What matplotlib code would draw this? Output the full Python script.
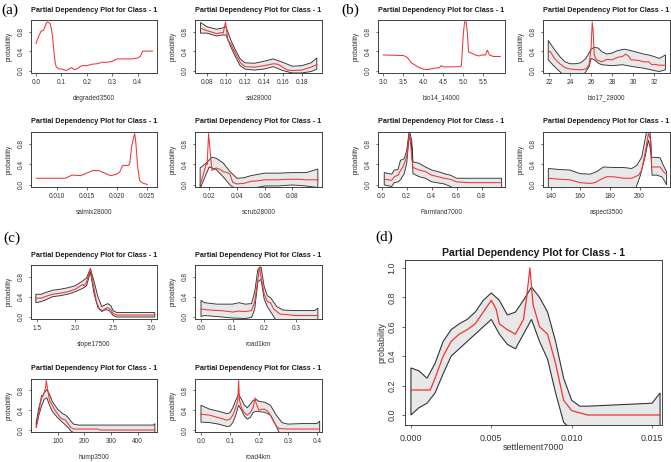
import matplotlib
matplotlib.use("Agg")
import matplotlib.pyplot as plt

W, H = 671, 462
plt.rcParams['font.family'] = ['Liberation Sans', 'DejaVu Sans']

TITLE = "Partial Dependency Plot for Class - 1"
RED = '#f03434'
EDGE = '#333333'
FILL = '#e8e8e8'

# ---- (a) ----
degraded_x = [0.0, 0.01, 0.02, 0.03, 0.04, 0.045, 0.055, 0.06, 0.065, 0.07, 0.075, 0.08, 0.09, 0.10, 0.11,
              0.12, 0.13, 0.14, 0.15, 0.16, 0.17, 0.18, 0.20, 0.22, 0.24, 0.26, 0.28, 0.30, 0.32, 0.35,
              0.38, 0.40, 0.41, 0.42, 0.43, 0.458]
degraded_y = [0.56, 0.70, 0.81, 0.83, 0.97, 1.0, 0.97, 0.87, 0.70, 0.42, 0.17, 0.07, 0.035, 0.03, 0.015,
              0.0, 0.035, 0.06, 0.02, 0.03, 0.07, 0.10, 0.10, 0.13, 0.14, 0.17, 0.17, 0.19, 0.24, 0.24,
              0.24, 0.26, 0.29, 0.40, 0.40, 0.40]

sal_x = [0.073, 0.08, 0.09, 0.095, 0.097, 0.0995, 0.102, 0.105, 0.11, 0.115, 0.12, 0.13, 0.14, 0.15,
         0.155, 0.16, 0.165, 0.17, 0.18, 0.19, 0.196]
sal_y = [0.87, 0.82, 0.76, 0.78, 0.77, 1.0, 0.62, 0.55, 0.35, 0.17, 0.08, 0.07, 0.10, 0.14, 0.13, 0.07,
         0.01, 0.0, 0.01, 0.07, 0.12]
sal_bx = [0.073, 0.08, 0.09, 0.095, 0.10, 0.105, 0.11, 0.115, 0.12, 0.13, 0.14, 0.15, 0.16, 0.17, 0.18,
          0.19, 0.196]
sal_hi = [0.99, 0.90, 0.85, 0.87, 0.90, 0.63, 0.42, 0.24, 0.16, 0.15, 0.19, 0.24, 0.17, 0.09, 0.10, 0.16, 0.26]
sal_lo = [0.77, 0.77, 0.71, 0.73, 0.73, 0.49, 0.28, 0.10, 0.03, 0.01, 0.03, 0.08, 0.0, -0.05, -0.05, -0.02, 0.03]

salmix_x = [0.0066, 0.010, 0.0115, 0.0125, 0.013, 0.014, 0.015, 0.016, 0.017, 0.018, 0.019, 0.020, 0.0205,
            0.021, 0.0215, 0.022, 0.0222, 0.0225, 0.0228, 0.023, 0.0232, 0.0235, 0.0238, 0.024, 0.0245, 0.0251]
salmix_y = [0.13, 0.13, 0.13, 0.19, 0.19, 0.18, 0.23, 0.28, 0.28, 0.23, 0.18, 0.21, 0.25, 0.38, 0.38, 0.38,
            0.43, 0.75, 0.91, 1.0, 0.81, 0.35, 0.10, 0.06, 0.03, 0.01]

scrub_x = [0.0134, 0.016, 0.018, 0.0185, 0.0195, 0.021, 0.022, 0.025, 0.028, 0.030, 0.033, 0.035, 0.036,
           0.037, 0.040, 0.045, 0.05, 0.055, 0.06, 0.065, 0.07, 0.075, 0.08, 0.085, 0.09, 0.0985]
scrub_y = [0.0, 0.23, 0.43, 0.40, 1.0, 0.55, 0.28, 0.33, 0.30, 0.26, 0.24, 0.21, 0.13, 0.05, 0.02, 0.03,
           0.07, 0.08, 0.10, 0.10, 0.10, 0.11, 0.11, 0.11, 0.10, 0.10]
scrub_hx = [0.0134, 0.018, 0.022, 0.025, 0.030, 0.035, 0.040, 0.045, 0.05, 0.06, 0.07, 0.08, 0.09, 0.0985]
scrub_hi = [0.33, 0.43, 0.54, 0.52, 0.43, 0.26, 0.13, 0.14, 0.18, 0.23, 0.23, 0.24, 0.24, 0.31]
scrub_lx = [0.0134, 0.016, 0.02, 0.022, 0.025, 0.03, 0.035, 0.04, 0.05, 0.06, 0.07, 0.08, 0.09, 0.0985]
scrub_lo = [-0.07, 0.10, 0.35, 0.33, 0.30, 0.16, 0.0, -0.1, -0.07, -0.02, -0.02, 0.0, -0.02, -0.05]

# ---- (b) ----
bio14_x = [3.0, 3.5, 3.6, 3.7, 3.8, 3.9, 4.0, 4.1, 4.2, 4.3, 4.4, 4.45, 4.5, 4.7, 4.9, 4.95, 5.0, 5.03,
           5.07, 5.1, 5.13, 5.2, 5.3, 5.4, 5.45, 5.55, 5.6, 5.65, 5.75, 5.92]
bio14_y = [0.32, 0.31, 0.27, 0.16, 0.11, 0.06, 0.03, 0.02, 0.035, 0.05, 0.06, 0.10, 0.075, 0.075, 0.08,
           0.10, 0.77, 1.0, 1.0, 0.77, 0.38, 0.36, 0.32, 0.30, 0.32, 0.32, 0.42, 0.32, 0.29, 0.29]

bio17_x = [21.9, 22.1, 22.5, 23, 23.5, 24, 25, 25.5, 25.8, 26.0, 26.1, 26.2, 26.3, 26.5, 27, 27.5, 28,
           28.5, 29, 29.3, 29.6, 29.8, 30, 30.5, 31, 31.5, 31.8, 32, 32.5, 33.1]
bio17_y = [0.39, 0.39, 0.25, 0.14, 0.06, 0.03, 0.015, 0.035, 0.12, 0.48, 1.0, 0.77, 0.32, 0.22, 0.18, 0.23,
           0.22, 0.27, 0.29, 0.34, 0.29, 0.22, 0.22, 0.21, 0.18, 0.18, 0.12, 0.13, 0.11, 0.11]
bio17_hx = [21.9, 22.5, 23, 23.5, 24, 24.5, 25, 25.5, 26, 26.3, 26.7, 27, 27.5, 28, 28.5, 29.2, 29.8, 30.5,
            31, 31.5, 32, 32.5, 33.1]
bio17_hi = [0.62, 0.43, 0.29, 0.18, 0.14, 0.14, 0.16, 0.25, 0.44, 0.48, 0.46, 0.39, 0.34, 0.36, 0.41, 0.44,
            0.41, 0.37, 0.34, 0.32, 0.29, 0.25, 0.32]
bio17_lx = [21.9, 22.5, 23, 23.5, 24, 25, 25.5, 25.8, 26, 26.3, 26.7, 27, 28, 29, 30, 31, 32, 32.5, 33.1]
bio17_lo = [0.22, 0.08, -0.02, -0.12, -0.19, -0.16, -0.02, 0.08, 0.25, 0.22, 0.15, 0.12, 0.10, 0.12, 0.08,
            0.05, 0.0, -0.02, 0.015]

farm_x = [0.02, 0.05, 0.08, 0.10, 0.13, 0.15, 0.17, 0.19, 0.20, 0.21, 0.22, 0.23, 0.24, 0.25, 0.30, 0.35,
          0.40, 0.45, 0.50, 0.55, 0.60, 0.70, 0.80, 0.96]
farm_y = [0.11, 0.10, 0.09, 0.16, 0.19, 0.28, 0.35, 0.48, 0.54, 0.80, 1.0, 0.83, 0.54, 0.34, 0.29, 0.26,
          0.19, 0.16, 0.13, 0.11, 0.06, 0.045, 0.045, 0.045]
farm_hx = [0.02, 0.08, 0.10, 0.13, 0.15, 0.18, 0.20, 0.22, 0.24, 0.25, 0.30, 0.35, 0.40, 0.45, 0.50, 0.55,
           0.60, 0.70, 0.96]
farm_hi = [0.24, 0.21, 0.29, 0.30, 0.48, 0.51, 0.67, 1.06, 0.87, 0.45, 0.42, 0.35, 0.29, 0.26, 0.22, 0.19,
           0.13, 0.13, 0.13]
farm_lx = [0.02, 0.08, 0.10, 0.13, 0.15, 0.18, 0.20, 0.22, 0.24, 0.25, 0.30, 0.35, 0.40, 0.50, 0.55, 0.60, 0.96]
farm_lo = [0.0, -0.03, 0.045, 0.06, 0.10, 0.22, 0.42, 0.96, 0.74, 0.22, 0.16, 0.13, 0.06, 0.02, -0.03, -0.1, -0.06]

aspect_x = [138.4, 146.3, 153.1, 159.8, 166.6, 169.9, 173.3, 177.8, 182.3, 189.1, 194.7, 199.3, 201.5,
            203.7, 206.0, 207.6, 208.2, 211.6, 213.9, 216.1, 218.3]
aspect_y = [0.13, 0.11, 0.10, 0.045, 0.03, 0.045, 0.10, 0.16, 0.16, 0.13, 0.13, 0.19, 0.29, 0.61, 1.0,
            0.87, 0.35, 0.35, 0.35, 0.26, 0.21]
aspect_hx = [138.4, 146.3, 153.1, 159.8, 166.6, 171.1, 175.6, 182.3, 189.1, 194.7, 198.1, 201.5, 204.9,
             207.1, 208.2, 213.9, 216.1, 218.3]
aspect_hi = [0.32, 0.30, 0.29, 0.22, 0.21, 0.26, 0.35, 0.34, 0.34, 0.32, 0.38, 0.54, 1.06, 1.04, 0.54,
             0.53, 0.38, 0.26]
aspect_lx = [138.4, 146.3, 159.8, 173.3, 191.4, 197.0, 200.3, 203.7, 206.0, 207.6, 208.5, 211.6, 215.0,
             217.3, 218.3]
aspect_lo = [-0.06, -0.1, -0.16, -0.16, -0.16, -0.1, 0.16, 0.54, 0.87, 0.67, 0.19, 0.19, 0.16, 0.06, 0.0]

# ---- (c) ----
slope_x = [1.48, 1.55, 1.6, 1.7, 1.8, 1.9, 2.0, 2.05, 2.1, 2.12, 2.15, 2.18, 2.2, 2.22, 2.25, 2.28, 2.32,
           2.36, 2.4, 2.43, 2.47, 2.5, 2.55, 2.6, 3.05]
slope_y = [0.37, 0.37, 0.40, 0.45, 0.47, 0.50, 0.55, 0.60, 0.65, 0.62, 0.70, 0.85, 0.97, 0.80, 0.55, 0.30,
           0.15, 0.12, 0.16, 0.18, 0.14, 0.06, 0.03, 0.03, 0.03]
slope_hx = [1.48, 1.55, 1.6, 1.7, 1.8, 1.9, 2.0, 2.1, 2.15, 2.2, 2.25, 2.3, 2.35, 2.4, 2.43, 2.47, 2.5,
            2.55, 3.05]
slope_hi = [0.45, 0.45, 0.48, 0.53, 0.55, 0.58, 0.62, 0.72, 0.78, 0.97, 0.70, 0.40, 0.20, 0.24, 0.26, 0.22,
            0.12, 0.08, 0.08]
slope_lx = [1.48, 1.55, 1.6, 1.7, 1.8, 1.9, 2.0, 2.1, 2.15, 2.2, 2.25, 2.3, 2.35, 2.4, 2.45, 2.5, 2.55, 3.05]
slope_lo = [0.28, 0.30, 0.33, 0.40, 0.42, 0.45, 0.50, 0.57, 0.62, 0.90, 0.45, 0.18, 0.10, 0.14, 0.12, 0.02,
            -0.01, -0.01]

road1_x = [0.0, 0.03, 0.06, 0.09, 0.10, 0.12, 0.14, 0.16, 0.17, 0.18, 0.185, 0.19, 0.20, 0.21, 0.22, 0.23,
           0.25, 0.30, 0.37]
road1_y = [0.15, 0.13, 0.12, 0.10, 0.09, 0.11, 0.10, 0.12, 0.30, 0.75, 1.0, 0.80, 0.45, 0.30, 0.28, 0.15,
           0.05, 0.02, 0.02]
road1_hx = [0.0, 0.01, 0.05, 0.10, 0.12, 0.14, 0.16, 0.17, 0.18, 0.19, 0.20, 0.21, 0.22, 0.24, 0.26, 0.30,
            0.36, 0.37]
road1_hi = [0.33, 0.28, 0.25, 0.25, 0.28, 0.25, 0.26, 0.50, 0.95, 1.0, 0.60, 0.42, 0.38, 0.20, 0.13, 0.12,
            0.12, 0.17]
road1_lx = [0.0, 0.01, 0.05, 0.10, 0.14, 0.16, 0.17, 0.18, 0.19, 0.20, 0.21, 0.22, 0.23, 0.24, 0.26, 0.37]
road1_lo = [0.0, 0.02, 0.0, -0.03, -0.04, -0.02, 0.15, 0.70, 0.75, 0.35, 0.20, 0.10, 0.0, -0.1, -0.15, -0.15]

hump_x = [20, 30, 40, 45, 50, 55, 58, 62, 70, 80, 90, 100, 110, 120, 130, 140, 150, 160, 200, 250, 260, 465]
hump_y = [0.05, 0.35, 0.70, 0.68, 0.75, 0.85, 1.0, 0.85, 0.60, 0.50, 0.40, 0.33, 0.25, 0.22, 0.20, 0.12,
          0.05, 0.02, 0.02, 0.02, 0.0, 0.0]
hump_hx = [20, 30, 40, 50, 60, 70, 80, 100, 120, 130, 140, 150, 160, 180, 200, 460, 465]
hump_hi = [0.15, 0.45, 0.65, 0.75, 0.82, 0.72, 0.58, 0.42, 0.33, 0.30, 0.25, 0.18, 0.12, 0.10, 0.10, 0.10, 0.13]
hump_lx = [20, 30, 40, 50, 60, 70, 80, 100, 120, 140, 150, 160, 465]
hump_lo = [0.05, 0.30, 0.48, 0.62, 0.65, 0.50, 0.38, 0.25, 0.15, 0.05, -0.02, -0.05, -0.05]

road4_x = [0.0, 0.03, 0.06, 0.09, 0.10, 0.11, 0.12, 0.127, 0.13, 0.133, 0.14, 0.15, 0.16, 0.17, 0.18,
           0.187, 0.19, 0.20, 0.21, 0.22, 0.23, 0.24, 0.25, 0.26, 0.27, 0.30, 0.35, 0.41]
road4_y = [0.32, 0.30, 0.25, 0.20, 0.22, 0.30, 0.45, 0.60, 1.0, 0.60, 0.45, 0.35, 0.30, 0.35, 0.45, 0.65,
           0.55, 0.40, 0.42, 0.42, 0.38, 0.30, 0.18, 0.08, 0.03, 0.02, 0.02, 0.02]
road4_hx = [0.0, 0.03, 0.06, 0.09, 0.10, 0.11, 0.12, 0.13, 0.14, 0.15, 0.16, 0.17, 0.18, 0.19, 0.20, 0.22,
            0.24, 0.26, 0.28, 0.30, 0.35, 0.40, 0.41]
road4_hi = [0.50, 0.42, 0.38, 0.33, 0.35, 0.45, 0.60, 0.72, 0.62, 0.50, 0.45, 0.52, 0.60, 0.62, 0.58, 0.56,
            0.50, 0.30, 0.15, 0.12, 0.13, 0.13, 0.18]
road4_lx = [0.0, 0.03, 0.06, 0.09, 0.10, 0.11, 0.12, 0.13, 0.14, 0.15, 0.16, 0.17, 0.18, 0.19, 0.20, 0.22,
            0.24, 0.26, 0.27, 0.30, 0.41]
road4_lo = [0.16, 0.15, 0.12, 0.07, 0.08, 0.15, 0.30, 0.50, 0.40, 0.28, 0.22, 0.25, 0.35, 0.38, 0.37, 0.36,
            0.30, 0.08, -0.05, -0.15, -0.15]

# ---- (d) ----
settle_x = [0.0, 0.0012, 0.0015, 0.002, 0.0025, 0.003, 0.0035, 0.004, 0.0045, 0.005, 0.0053, 0.0055, 0.006,
            0.0065, 0.007, 0.0072, 0.0074, 0.0076, 0.008, 0.0085, 0.009, 0.0095, 0.010, 0.011, 0.0155]
settle_y = [0.17, 0.17, 0.25, 0.40, 0.50, 0.55, 0.58, 0.62, 0.70, 0.78, 0.72, 0.62, 0.58, 0.55, 0.65, 0.80,
            1.0, 0.75, 0.60, 0.55, 0.35, 0.10, 0.03, 0.0, 0.0]
settle_hx = [0.0, 0.0005, 0.001, 0.0015, 0.002, 0.0025, 0.003, 0.0035, 0.004, 0.0045, 0.005, 0.0055, 0.006,
             0.0065, 0.007, 0.0075, 0.008, 0.0085, 0.009, 0.0095, 0.010, 0.0105, 0.011, 0.013, 0.015, 0.0155]
settle_hi = [0.32, 0.30, 0.25, 0.35, 0.50, 0.58, 0.62, 0.65, 0.70, 0.78, 0.83, 0.78, 0.68, 0.70, 0.78, 0.87,
             0.80, 0.70, 0.50, 0.25, 0.10, 0.06, 0.06, 0.07, 0.08, 0.15]
settle_lx = [0.0, 0.0005, 0.001, 0.0015, 0.002, 0.0025, 0.003, 0.0035, 0.004, 0.0045, 0.005, 0.0055, 0.006,
             0.0065, 0.007, 0.0075, 0.008, 0.0085, 0.009, 0.0095, 0.010, 0.0155]
settle_lo = [0.0, 0.05, 0.08, 0.15, 0.28, 0.40, 0.45, 0.50, 0.55, 0.60, 0.65, 0.55, 0.48, 0.45, 0.55, 0.65,
             0.50, 0.38, 0.15, -0.05, -0.1, -0.1]


def box(l, t, r, b):
    return [l / W, 1 - b / H, (r - l) / W, (b - t) / H]


def panel(rect, xlim, ylim, xticks, xlabels, yticks, ylabels, xlabel, line, band=None, big=False):
    ax = fig.add_axes(box(*rect))
    wpx = rect[2] - rect[0]
    hpx = rect[3] - rect[1]
    fs = 6.4 if big else 4.7
    if band is not None:
        hx, hi, lx, lo = band
        ax.fill(list(hx) + list(lx)[::-1], list(hi) + list(lo)[::-1],
                facecolor=FILL, edgecolor=EDGE, linewidth=0.8 if big else 0.65)
    ax.plot(line[0], line[1], color=RED, linewidth=0.9 if big else 0.75)
    ax.set_xlim(*xlim)
    ax.set_ylim(*ylim)
    ax.set_xticks(xticks)
    ax.set_xticklabels(xlabels)
    ax.set_yticks(yticks)
    ax.set_yticklabels(ylabels, rotation=90, va='center')
    ax.tick_params(direction='out', length=2.2 if big else 1.8, width=0.5, labelsize=fs,
                   colors='#333333', pad=4 if big else 2.8)
    for s in ax.spines.values():
        s.set_linewidth(0.65)
        s.set_color('#333333')
    ax.set_xlabel(xlabel, fontsize=fs, color='#333333')
    ax.set_ylabel("probability", fontsize=fs, color='#333333')
    ax.xaxis.set_label_coords(0.5, -(18 if big else 22) / hpx)
    ax.yaxis.set_label_coords(-(19 if big else 18) / wpx, 0.5)
    ax.set_title(TITLE, fontsize=7.6 if big else 5.2, fontweight='bold', color='#1a1a1a',
                 pad=3 if big else 6)
    return ax


fig = plt.figure(figsize=(W / 100, H / 100), dpi=100)

p_ticks = [0.0, 0.4, 0.8]
p_labels = ["0.0", "0.4", "0.8"]
ylim_s = (-0.04, 1.04)

row1 = (20, 72.5)
row2 = (131.5, 187)
row3 = (265, 318.5)
row4 = (378.5, 432)
col1 = (31, 157)
col2 = (195, 322)
col3 = (378, 505)
col4 = (543, 670)

panel((col1[0], row1[0], col1[1], row1[1]), (-0.0197, 0.476), ylim_s,
      [0.0, 0.1, 0.2, 0.3, 0.4], ["0.0", "0.1", "0.2", "0.3", "0.4"], p_ticks, p_labels,
      "degraded3500", (degraded_x, degraded_y))
panel((col2[0], row1[0], col2[1], row1[1]), (0.0672, 0.2015), ylim_s,
      [0.08, 0.10, 0.12, 0.14, 0.16, 0.18], ["0.08", "0.10", "0.12", "0.14", "0.16", "0.18"],
      p_ticks, p_labels, "sal28000", (sal_x, sal_y), (sal_bx, sal_hi, sal_bx, sal_lo))
panel((col1[0], row2[0], col1[1], row2[1]), (0.00572, 0.02672), ylim_s,
      [0.010, 0.015, 0.020, 0.025], ["0.010", "0.015", "0.020", "0.025"], p_ticks, p_labels,
      "salmix28000", (salmix_x, salmix_y))
panel((col2[0], row2[0], col2[1], row2[1]), (0.0097, 0.1015), ylim_s,
      [0.02, 0.04, 0.06, 0.08], ["0.02", "0.04", "0.06", "0.08"], p_ticks, p_labels,
      "scrub28000", (scrub_x, scrub_y), (scrub_hx, scrub_hi, scrub_lx, scrub_lo))

panel((col3[0], row1[0], col3[1], row1[1]), (2.867, 6.04), ylim_s,
      [3.0, 3.5, 4.0, 4.5, 5.0, 5.5], ["3.0", "3.5", "4.0", "4.5", "5.0", "5.5"], p_ticks, p_labels,
      "bio14_14000", (bio14_x, bio14_y))
panel((col4[0], row1[0], col4[1], row1[1]), (21.4, 33.53), ylim_s,
      [22, 24, 26, 28, 30, 32], ["22", "24", "26", "28", "30", "32"], p_ticks, p_labels,
      "bio17_28000", (bio17_x, bio17_y), (bio17_hx, bio17_hi, bio17_lx, bio17_lo))
panel((col3[0], row2[0], col3[1], row2[1]), (-0.03, 0.987), ylim_s,
      [0.0, 0.2, 0.4, 0.6, 0.8], ["0.0", "0.2", "0.4", "0.6", "0.8"], p_ticks, p_labels,
      "Farmland7000", (farm_x, farm_y), (farm_hx, farm_hi, farm_lx, farm_lo))
panel((col4[0], row2[0], col4[1], row2[1]), (134.8, 220.6), ylim_s,
      [140, 160, 180, 200], ["140", "160", "180", "200"], p_ticks, p_labels,
      "aspect3500", (aspect_x, aspect_y), (aspect_hx, aspect_hi, aspect_lx, aspect_lo))

panel((col1[0], row3[0], col1[1], row3[1]), (1.416, 3.08), ylim_s,
      [1.5, 2.0, 2.5, 3.0], ["1.5", "2.0", "2.5", "3.0"], p_ticks, p_labels,
      "slope17500", (slope_x, slope_y), (slope_hx, slope_hi, slope_lx, slope_lo))
panel((col2[0], row3[0], col2[1], row3[1]), (-0.019, 0.383), ylim_s,
      [0.0, 0.1, 0.2, 0.3], ["0.0", "0.1", "0.2", "0.3"], p_ticks, p_labels,
      "road1km", (road1_x, road1_y), (road1_hx, road1_hi, road1_lx, road1_lo))
panel((col1[0], row4[0], col1[1], row4[1]), (0.5, 473), ylim_s,
      [100, 200, 300, 400], ["100", "200", "300", "400"], p_ticks, p_labels,
      "hump3500", (hump_x, hump_y), (hump_hx, hump_hi, hump_lx, hump_lo))
panel((col2[0], row4[0], col2[1], row4[1]), (-0.0207, 0.418), ylim_s,
      [0.0, 0.1, 0.2, 0.3, 0.4], ["0.0", "0.1", "0.2", "0.3", "0.4"], p_ticks, p_labels,
      "road4km", (road4_x, road4_y), (road4_hx, road4_hi, road4_lx, road4_lo))

panel((405, 260, 662, 425), (-0.00037, 0.01562), (-0.068, 1.054),
      [0.0, 0.005, 0.010, 0.015], ["0.000", "0.005", "0.010", "0.015"],
      [0.0, 0.2, 0.4, 0.6, 0.8, 1.0], ["0.0", "0.2", "0.4", "0.6", "0.8", "1.0"],
      "settlement7000", (settle_x, settle_y), (settle_hx, settle_hi, settle_lx, settle_lo), big=True)

for lab, x, y in [("(a)", 10, 10), ("(b)", 350, 10), ("(c)", 12, 238), ("(d)", 384, 237)]:
    fig.text(x / W, 1 - y / H, lab, fontsize=11, family=['Liberation Serif', 'DejaVu Serif'],
             ha='center', va='center',
             bbox=dict(facecolor='white', edgecolor='none', pad=0.5))

fig.savefig("out.png", dpi=100, facecolor='white')
